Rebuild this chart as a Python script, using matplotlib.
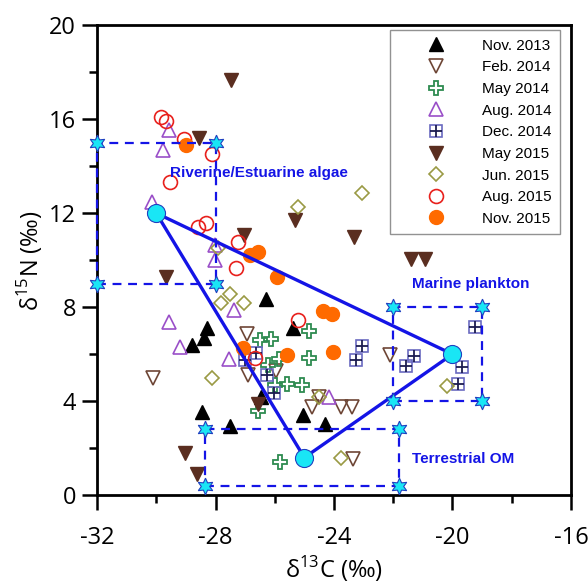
import matplotlib
matplotlib.use("Agg")
import matplotlib.pyplot as plt
from matplotlib.ticker import MultipleLocator

plt.rcParams['font.family'] = ['Open Sans', 'DejaVu Sans']
plt.rcParams['mathtext.fontset'] = 'custom'
plt.rcParams['mathtext.rm'] = 'Open Sans'
plt.rcParams['axes.unicode_minus'] = False

# sample data (d13C, d15N)
nov13_x = [-26.3, -28.3, -28.4, -28.8, -26.45, -28.45, -27.5, -25.4, -25.05, -24.3]
nov13_y = [8.35, 7.1, 6.7, 6.4, 4.2, 3.55, 2.95, 7.1, 3.4, 3.05]
feb14_x = [-30.1, -26.95, -26.9, -25.95, -22.1, -24.75, -24.5, -23.75, -23.4, -23.35]
feb14_y = [5.0, 6.85, 5.1, 5.3, 5.95, 3.75, 4.2, 3.75, 3.75, 1.55]
may14_x = [-26.5, -26.12, -24.83, -26.23, -25.87, -24.83, -26.0, -25.6, -25.08, -26.55, -25.82]
may14_y = [6.6, 6.65, 6.98, 5.53, 5.8, 5.84, 4.68, 4.75, 4.68, 3.57, 1.42]
aug14_x = [-29.58, -29.77, -30.16, -28.03, -28.03, -29.58, -29.2, -27.39, -27.56, -24.18]
aug14_y = [15.53, 14.7, 12.48, 10.65, 10.02, 7.38, 6.31, 7.86, 5.8, 4.18]
dec14_x = [-26.62, -26.99, -26.26, -26.01, -23.05, -23.26, -21.29, -21.57, -19.24, -19.69, -19.83]
dec14_y = [6.07, 5.74, 5.1, 4.37, 6.33, 5.74, 5.91, 5.49, 7.16, 5.46, 4.75]
may15_x = [-28.55, -27.49, -27.05, -29.68, -25.32, -23.31, -21.4, -20.92, -26.57, -29.04, -28.62]
may15_y = [15.2, 17.66, 11.08, 9.29, 11.73, 10.99, 10.03, 10.05, 3.9, 1.8, 0.92]
jun15_x = [-23.04, -25.2, -27.9, -27.52, -27.8, -27.05, -28.11, -24.51, -23.76, -20.17]
jun15_y = [12.85, 12.28, 10.52, 8.55, 8.17, 8.17, 4.99, 4.18, 1.6, 4.64]
aug15_x = [-29.84, -29.68, -29.05, -28.11, -29.54, -28.6, -28.32, -27.24, -27.32, -25.22, -26.66]
aug15_y = [16.08, 15.9, 15.14, 14.52, 13.32, 11.42, 11.6, 10.78, 9.65, 7.45, 5.82]
nov15_x = [-29.0, -26.83, -26.57, -25.91, -24.37, -24.08, -25.6, -24.05, -27.07]
nov15_y = [14.9, 10.2, 10.33, 9.3, 7.85, 7.72, 5.98, 6.1, 6.28]

labels = ['Nov. 2013', 'Feb. 2014', 'May 2014', 'Aug. 2014', 'Dec. 2014',
          'May 2015', 'Jun. 2015', 'Aug. 2015', 'Nov. 2015']

# end members: mean and box (x range, y range)
em_names = ['Riverine/Estuarine algae', 'Marine plankton', 'Terrestrial OM']
em_mean_x = [-30, -20, -25]
em_mean_y = [12, 6, 1.6]
em_box_x = [(-32, -28), (-22, -19), (-28.35, -21.8)]
em_box_y = [(9, 15), (4, 8), (0.4, 2.8)]
em_label_x = [-29.55, -21.35, -21.35]
em_label_y = [13.7, 9.0, 1.55]

blue = '#1414e6'
cyan = '#19e6f5'

fig = plt.figure(figsize=(5.88, 5.84), dpi=100)
ax = fig.add_axes([0.165, 0.152, 0.806, 0.805])

ms = 9.5
h = []
h.append(ax.plot(nov13_x, nov13_y, '^', color='black', ms=ms, ls='none')[0])
h.append(ax.plot(feb14_x, feb14_y, 'v', mfc='none', mec='#6e4636', mew=1.2, ms=ms, ls='none')[0])
h.append(ax.plot(may14_x, may14_y, 'P', mfc='none', mec='#2e8b50', mew=1.3, ms=ms + 1, ls='none')[0])
h.append(ax.plot(aug14_x, aug14_y, '^', mfc='none', mec='#9a4fc8', mew=1.2, ms=ms, ls='none')[0])
sq = ax.plot(dec14_x, dec14_y, 's', mfc='none', mec='#6a6ac0', mew=1.2, ms=ms - 1, ls='none')[0]
cr = ax.plot(dec14_x, dec14_y, '+', color='#1c1c50', mew=1.3, ms=ms - 1, ls='none')[0]
h.append((sq, cr))
h.append(ax.plot(may15_x, may15_y, 'v', color='#5a2e20', ms=ms, ls='none')[0])
h.append(ax.plot(jun15_x, jun15_y, 'D', mfc='none', mec='#9a9a44', mew=1.2, ms=6.8, ls='none')[0])
h.append(ax.plot(aug15_x, aug15_y, 'o', mfc='none', mec='#e8201c', mew=1.2, ms=ms + 0.5, ls='none')[0])
h.append(ax.plot(nov15_x, nov15_y, 'o', color='#ff6a00', ms=ms + 0.5, ls='none')[0])

# dashed end-member boxes with star corners
for (x0, x1), (y0, y1) in zip(em_box_x, em_box_y):
    ax.plot([x0, x1, x1, x0, x0], [y0, y0, y1, y1, y0], color=blue, lw=1.6,
            ls=(0, (4, 3)), zorder=4, clip_on=False)
    ax.plot([x0, x1, x1, x0], [y0, y0, y1, y1], marker=(6, 1, 0), ms=12, mfc=cyan,
            mec='#2040c0', mew=0.8, ls='none', zorder=6, clip_on=False)

# mixing triangle
ax.plot(em_mean_x + em_mean_x[:1], em_mean_y + em_mean_y[:1], color=blue, lw=2.4, zorder=5)
ax.plot(em_mean_x, em_mean_y, 'o', ms=13, mfc=cyan, mec='#2040c0', mew=0.8, ls='none', zorder=7)

for name, lx, ly in zip(em_names, em_label_x, em_label_y):
    ax.text(lx, ly, name, ha='left', va='center', color=blue, fontsize=11, weight='bold',
            family=['Liberation Sans', 'DejaVu Sans'], zorder=8)

ax.set_xlim(-32, -16)
ax.set_ylim(0, 20)
ax.xaxis.set_major_locator(MultipleLocator(4))
ax.xaxis.set_minor_locator(MultipleLocator(2))
ax.yaxis.set_major_locator(MultipleLocator(4))
ax.yaxis.set_minor_locator(MultipleLocator(2))
ax.tick_params(which='major', direction='out', length=11, width=1.8, labelsize=17)
ax.tick_params(which='minor', direction='out', length=6, width=1.8)
ax.tick_params(axis='x', which='major', pad=11)
ax.tick_params(axis='y', which='major', pad=4)
for s in ax.spines.values():
    s.set_linewidth(2)

ax.set_xlabel('δ$^{\\mathrm{13}}$C (‰)', fontsize=17, labelpad=3)
ax.set_ylabel('δ$^{\\mathrm{15}}$N (‰)', fontsize=17, labelpad=3)

leg = ax.legend(h, labels, loc='upper right', bbox_to_anchor=(0.977, 0.989), borderaxespad=0,
                fancybox=False, frameon=True, edgecolor='#777777', handlelength=5.0,
                handletextpad=0.5, labelspacing=0.5, borderpad=0.55, numpoints=1,
                prop={'family': ['Liberation Sans', 'DejaVu Sans'], 'size': 11})
leg.get_frame().set_linewidth(1.0)
leg.set_zorder(10)

fig.savefig('out.png', dpi=100)
